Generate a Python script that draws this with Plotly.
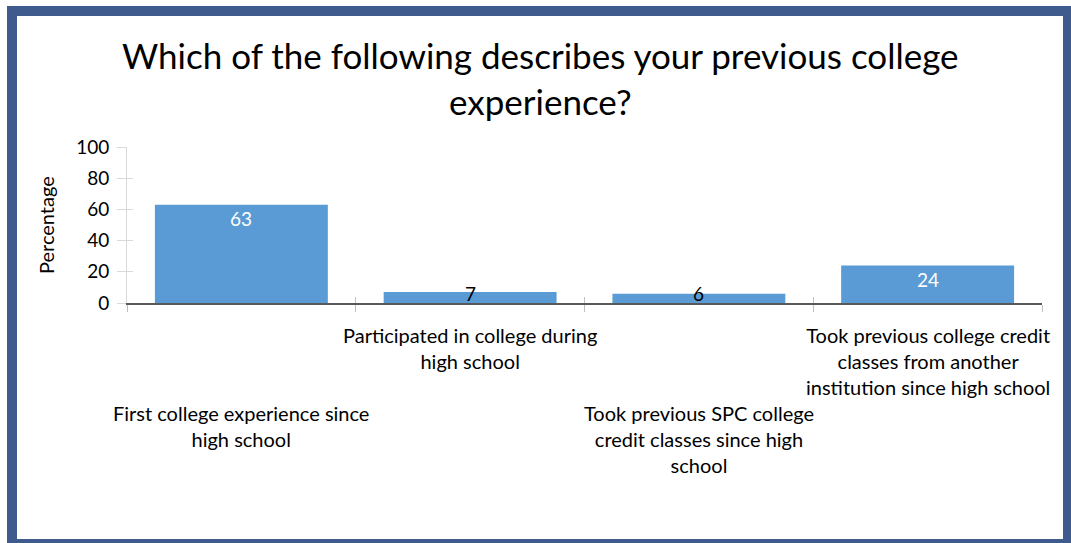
import plotly.graph_objects as go

# Survey responses (percent of respondents)
categories = [
    "First college experience since<br>high school",
    "Participated in college during<br>high school",
    "Took previous SPC college<br>credit classes since high<br>school",
    "Took previous college credit<br>classes from another<br>institution since high school",
]
values = [63, 7, 6, 24]
y_ticks = [0, 20, 40, 60, 80, 100]

title_text = "Which of the following describes your previous college<br>experience?"
y_title = "Percentage"

# Page and plot-area geometry (pixels)
W, H = 1071, 543
L, R, T, B = 127, 1042, 147, 303
FONT = "Lato"
BAR_COLOR = "#5B9BD5"
FRAME_COLOR = "#3F5A8D"


def px_x(px):
    return (px - L) / (R - L)


def px_y(py):
    return (B - py) / (B - T)


cat_ids = [f"c{i}" for i in range(len(categories))]

fig = go.Figure()
fig.add_trace(go.Bar(
    x=cat_ids, y=values, marker=dict(color=BAR_COLOR, line=dict(width=0)),
    hoverinfo="skip", showlegend=False,
))
# transparent copy on the overlay axes so their inward ticks are drawn
fig.add_trace(go.Bar(
    x=cat_ids, y=values, xaxis="x2", yaxis="y2", marker=dict(opacity=0),
    hoverinfo="skip", showlegend=False,
))

annotations = []
# value labels: inside the bar top, or resting on the baseline for short bars
for cid, v in zip(cat_ids, values):
    if v >= 15:
        annotations.append(dict(x=cid, y=v, xref="x", yref="y", text=str(v),
                                showarrow=False, yanchor="top", yshift=0,
                                font=dict(family=FONT, size=19, color="white")))
    else:
        annotations.append(dict(x=cid, y=0, xref="x", yref="y", text=str(v),
                                showarrow=False, yanchor="bottom", yshift=-4,
                                font=dict(family=FONT, size=19, color="black")))

# staggered category labels
for i, (cid, lab) in enumerate(zip(cat_ids, categories)):
    shift = -96 if i % 2 == 0 else -18
    annotations.append(dict(x=cid, y=0, xref="x", yref="paper", text=lab,
                            showarrow=False, yanchor="top", yshift=shift,
                            align="center",
                            font=dict(family=FONT, size=20, color="black")))

# chart title
annotations.append(dict(x=px_x(540), y=px_y(78), xref="paper", yref="paper",
                        text=title_text, showarrow=False, yanchor="middle",
                        xanchor="center", align="center",
                        font=dict(family=FONT, size=35, color="black")))
# y-axis title
annotations.append(dict(x=px_x(46), y=px_y(225), xref="paper", yref="paper",
                        text=y_title, showarrow=False, textangle=-90,
                        xanchor="center", yanchor="middle",
                        font=dict(family=FONT, size=20, color="black")))

fig.update_layout(
    width=W, height=H,
    margin=dict(l=L, r=W - R, t=T, b=H - B, autoexpand=False),
    paper_bgcolor="white", plot_bgcolor="white",
    bargap=0.244,
    annotations=annotations,
    xaxis=dict(
        type="category", categoryorder="array", categoryarray=cat_ids,
        range=[-0.5, len(cat_ids) - 0.5], automargin=False,
        showticklabels=False, showgrid=False, zeroline=False,
        showline=True, linecolor="#595959", linewidth=1.5,
        ticks="outside", tickson="boundaries", ticklen=7,
        tickcolor="#BFBFBF", tickwidth=1,
    ),
    yaxis=dict(
        range=[0, 100], tickvals=y_ticks, ticktext=[str(t) for t in y_ticks],
        automargin=False, showgrid=False, zeroline=False,
        showline=True, linecolor="#D9D9D9", linewidth=1,
        ticks="outside", ticklen=9, tickcolor="#D9D9D9", tickwidth=1,
        ticklabelstandoff=4,
        tickfont=dict(family=FONT, size=19, color="black"),
    ),
    xaxis2=dict(
        type="category", categoryorder="array", categoryarray=cat_ids,
        range=[-0.5, len(cat_ids) - 0.5], automargin=False,
        overlaying="x", anchor="y2", side="bottom",
        showticklabels=False, showgrid=False, zeroline=False, showline=False,
        ticks="inside", tickson="boundaries", ticklen=6,
        tickcolor="#BFBFBF", tickwidth=1,
    ),
    yaxis2=dict(
        range=[0, 100], tickvals=y_ticks, overlaying="y", anchor="x2", side="left",
        automargin=False,
        showticklabels=False, showgrid=False, zeroline=False, showline=False,
        ticks="inside", ticklen=6, tickcolor="#D9D9D9", tickwidth=1,
    ),
    shapes=[dict(
        type="rect", xref="paper", yref="paper",
        x0=px_x(12), x1=px_x(1068), y0=px_y(544), y1=px_y(11),
        line=dict(color=FRAME_COLOR, width=10), fillcolor="rgba(0,0,0,0)",
        layer="above",
    )],
)

fig.write_html("out.html")
